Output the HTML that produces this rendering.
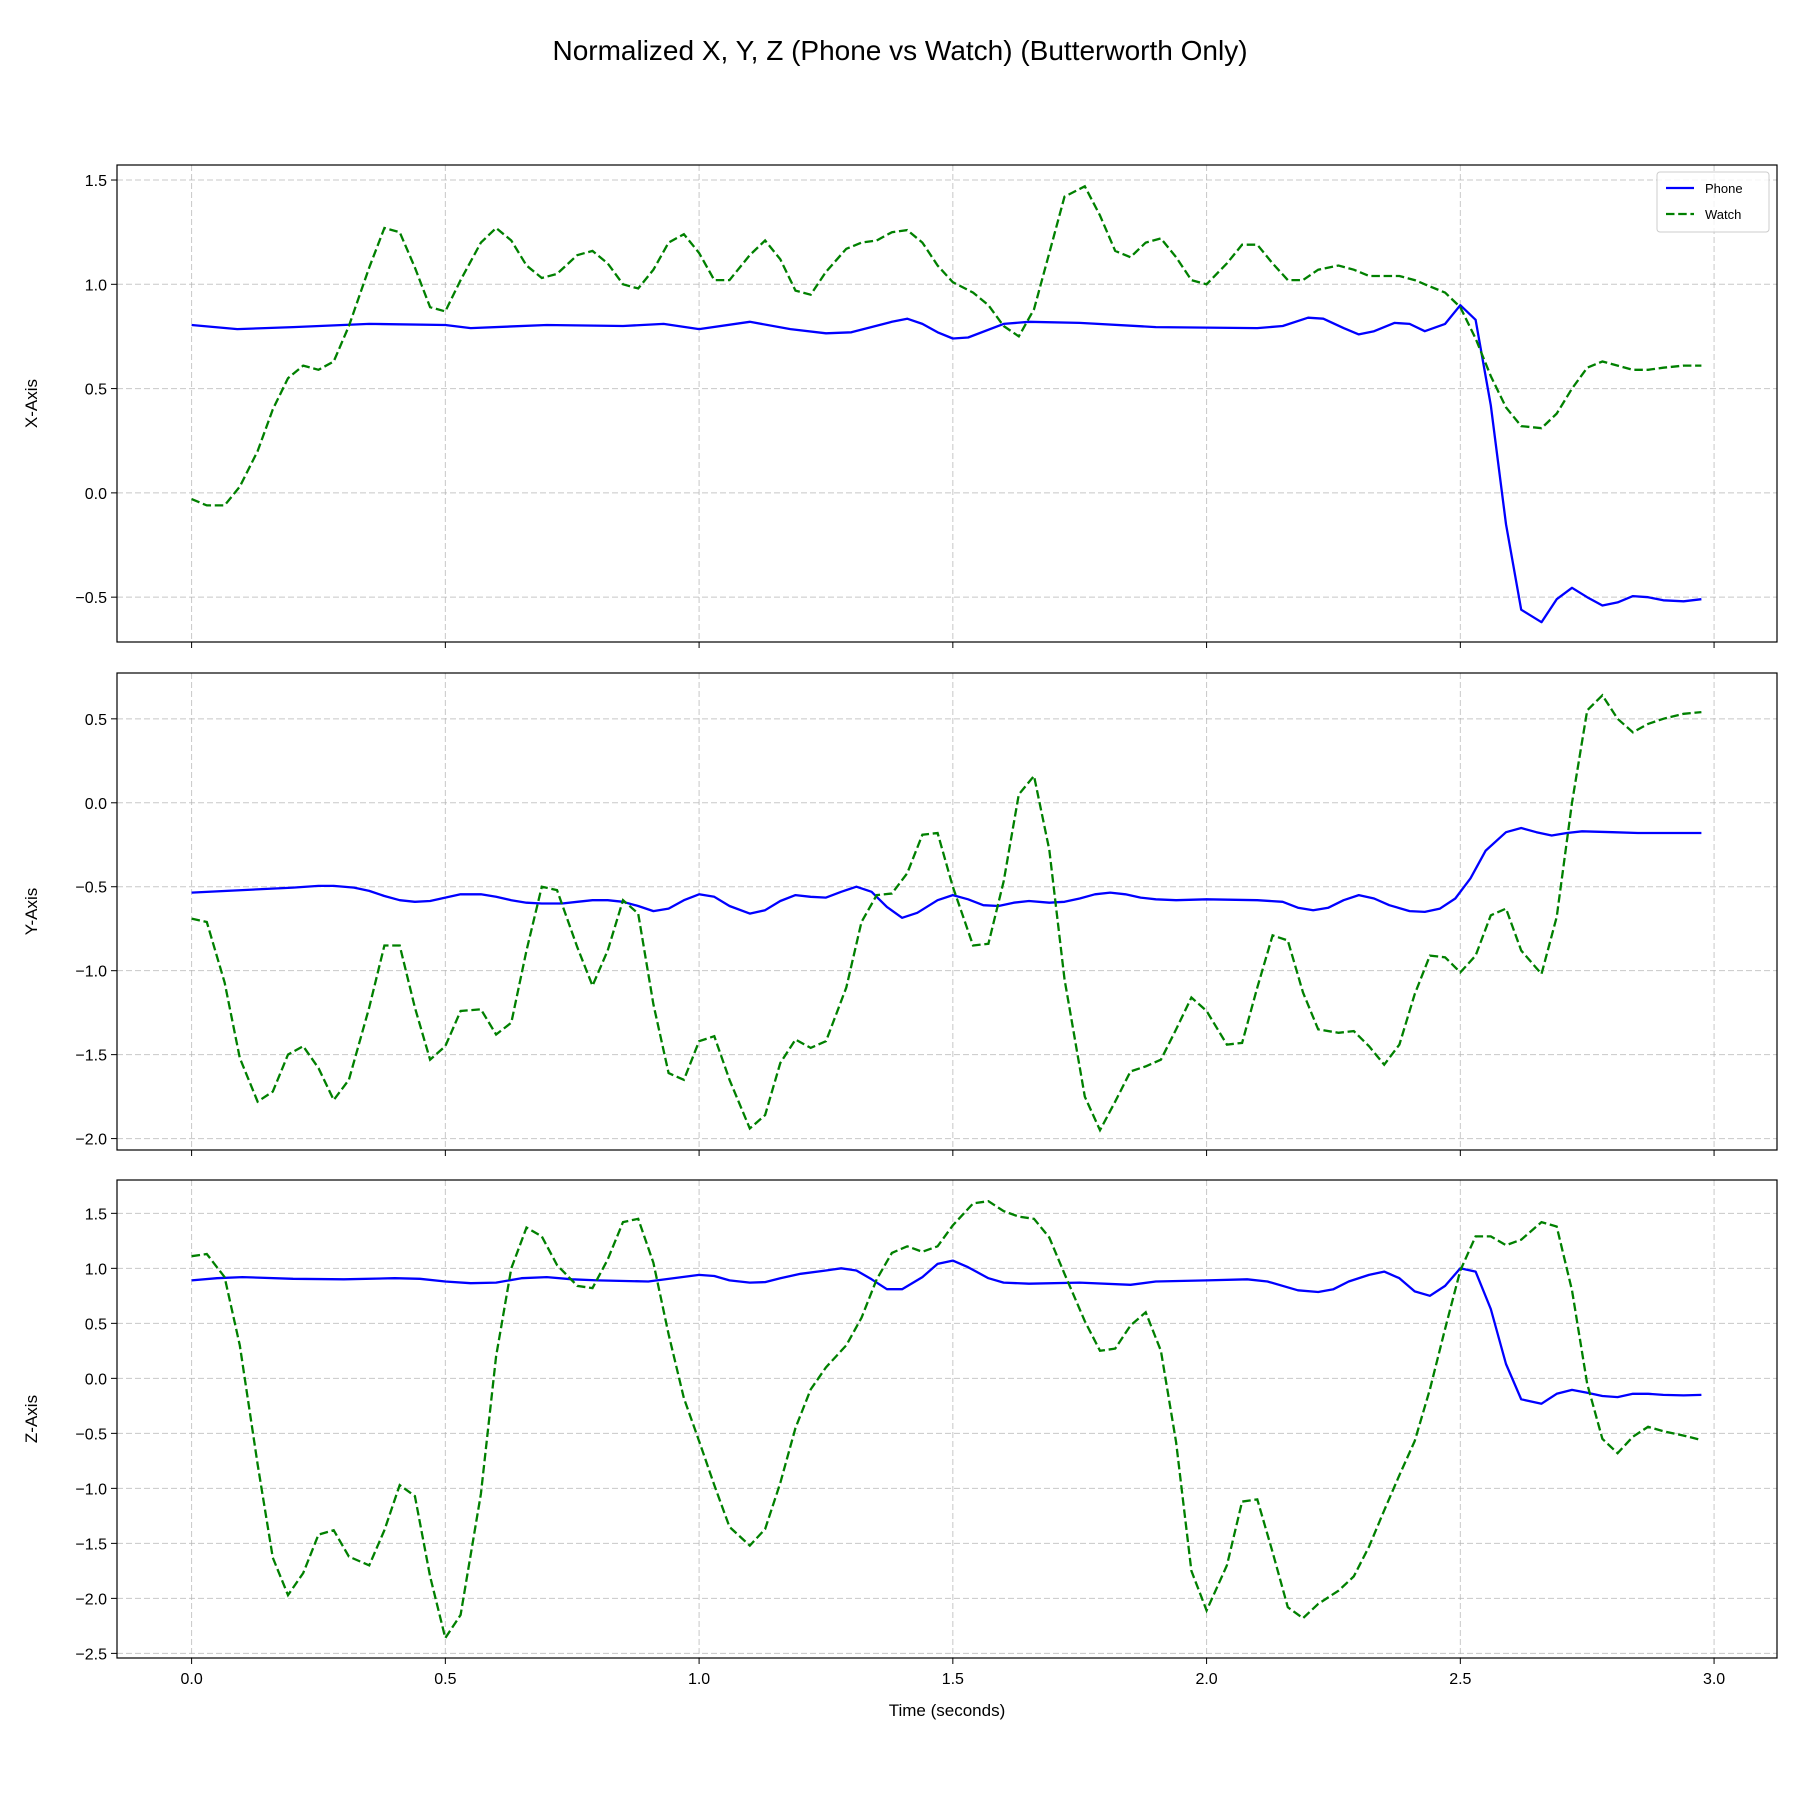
<!DOCTYPE html>
<html><head><meta charset="utf-8">
<style>
html,body{margin:0;padding:0;background:#fff;}
svg{display:block;font-family:"Liberation Sans","DejaVu Sans",sans-serif;}
</style></head>
<body>
<svg id="chart" width="1800" height="1800" viewBox="0 0 1800 1800">
<text x="900" y="60" text-anchor="middle" font-size="28" fill="#000">Normalized X, Y, Z (Phone vs Watch) (Butterworth Only)</text>
</svg>
<script>
const xTicks=[0,0.5,1.0,1.5,2.0,2.5,3.0];
const xTickLabels=["0.0","0.5","1.0","1.5","2.0","2.5","3.0"];
const ticksX=[-0.5,0,0.5,1,1.5];
const ticksY=[-2,-1.5,-1,-0.5,0,0.5];
const ticksZ=[-2.5,-2,-1.5,-1,-0.5,0,0.5,1,1.5];

const phoneXt=[0,0.09,0.2,0.35,0.5,0.55,0.7,0.85,0.93,1.0,1.1,1.18,1.25,1.3,1.38,1.41,1.44,1.47,1.5,1.53,1.6,1.65,1.75,1.9,2.1,2.15,2.2,2.23,2.27,2.3,2.33,2.37,2.4,2.43,2.47,2.5,2.53,2.56,2.59,2.62,2.66,2.69,2.72,2.75,2.78,2.81,2.84,2.87,2.9,2.94,2.975];
const phoneXv=[0.805,0.785,0.795,0.81,0.805,0.79,0.805,0.80,0.81,0.785,0.82,0.785,0.765,0.77,0.82,0.835,0.81,0.77,0.74,0.745,0.81,0.82,0.815,0.795,0.79,0.80,0.84,0.835,0.79,0.76,0.775,0.815,0.81,0.775,0.81,0.9,0.83,0.42,-0.15,-0.56,-0.62,-0.51,-0.455,-0.5,-0.54,-0.525,-0.495,-0.5,-0.515,-0.52,-0.51];
const watchXt=[0,0.03,0.065,0.095,0.13,0.16,0.19,0.22,0.25,0.28,0.31,0.35,0.38,0.41,0.44,0.47,0.5,0.53,0.57,0.6,0.63,0.66,0.69,0.72,0.76,0.79,0.82,0.85,0.88,0.91,0.94,0.97,1.0,1.03,1.06,1.1,1.13,1.16,1.19,1.22,1.25,1.29,1.32,1.35,1.38,1.41,1.44,1.47,1.5,1.54,1.57,1.6,1.63,1.66,1.69,1.72,1.76,1.79,1.82,1.85,1.88,1.91,1.94,1.97,2.0,2.04,2.07,2.1,2.13,2.16,2.19,2.22,2.26,2.29,2.32,2.35,2.38,2.41,2.44,2.47,2.5,2.53,2.56,2.59,2.62,2.66,2.69,2.72,2.75,2.78,2.81,2.84,2.87,2.9,2.94,2.975];
const watchXv=[-0.03,-0.06,-0.06,0.03,0.2,0.4,0.55,0.61,0.59,0.63,0.8,1.08,1.27,1.25,1.08,0.89,0.87,1.02,1.2,1.27,1.21,1.09,1.03,1.05,1.14,1.16,1.1,1.0,0.98,1.07,1.2,1.24,1.15,1.02,1.02,1.14,1.21,1.12,0.97,0.95,1.06,1.17,1.2,1.21,1.25,1.26,1.2,1.09,1.01,0.96,0.9,0.8,0.75,0.88,1.15,1.42,1.47,1.33,1.16,1.13,1.2,1.22,1.13,1.02,1.0,1.1,1.19,1.19,1.1,1.02,1.02,1.07,1.09,1.07,1.04,1.04,1.04,1.02,0.99,0.96,0.89,0.74,0.56,0.41,0.32,0.31,0.38,0.5,0.6,0.63,0.61,0.59,0.59,0.6,0.61,0.61];

const phoneYt=[0,0.1,0.2,0.25,0.28,0.32,0.35,0.38,0.41,0.44,0.47,0.5,0.53,0.57,0.6,0.63,0.66,0.69,0.73,0.76,0.79,0.82,0.85,0.88,0.91,0.94,0.97,1.0,1.03,1.06,1.1,1.13,1.16,1.19,1.22,1.25,1.28,1.31,1.34,1.37,1.4,1.43,1.47,1.5,1.53,1.56,1.59,1.62,1.65,1.69,1.72,1.75,1.78,1.81,1.84,1.87,1.9,1.94,2.0,2.1,2.15,2.18,2.21,2.24,2.27,2.3,2.33,2.36,2.4,2.43,2.46,2.49,2.52,2.55,2.59,2.62,2.65,2.68,2.71,2.74,2.8,2.85,2.9,2.975];
const phoneYv=[-0.535,-0.52,-0.505,-0.495,-0.495,-0.505,-0.525,-0.555,-0.58,-0.59,-0.585,-0.565,-0.545,-0.545,-0.56,-0.58,-0.595,-0.6,-0.6,-0.59,-0.58,-0.58,-0.59,-0.615,-0.645,-0.63,-0.58,-0.545,-0.56,-0.615,-0.66,-0.64,-0.585,-0.55,-0.56,-0.565,-0.53,-0.5,-0.53,-0.62,-0.685,-0.655,-0.58,-0.55,-0.575,-0.61,-0.615,-0.595,-0.585,-0.595,-0.59,-0.57,-0.545,-0.535,-0.545,-0.565,-0.575,-0.58,-0.575,-0.58,-0.59,-0.625,-0.64,-0.625,-0.58,-0.55,-0.57,-0.61,-0.645,-0.65,-0.63,-0.57,-0.45,-0.285,-0.175,-0.15,-0.175,-0.195,-0.18,-0.17,-0.175,-0.18,-0.18,-0.18];
const watchYt=watchXt;
const watchYv=[-0.69,-0.71,-1.07,-1.52,-1.78,-1.72,-1.5,-1.45,-1.58,-1.77,-1.65,-1.22,-0.85,-0.85,-1.22,-1.53,-1.45,-1.24,-1.23,-1.38,-1.31,-0.88,-0.5,-0.52,-0.86,-1.09,-0.88,-0.58,-0.66,-1.2,-1.61,-1.65,-1.42,-1.39,-1.65,-1.94,-1.86,-1.55,-1.41,-1.46,-1.42,-1.1,-0.71,-0.55,-0.54,-0.42,-0.19,-0.18,-0.5,-0.85,-0.84,-0.47,0.05,0.16,-0.28,-1.05,-1.75,-1.95,-1.78,-1.6,-1.57,-1.53,-1.35,-1.16,-1.24,-1.44,-1.43,-1.1,-0.79,-0.82,-1.13,-1.35,-1.37,-1.36,-1.45,-1.56,-1.44,-1.14,-0.91,-0.92,-1.01,-0.91,-0.67,-0.63,-0.88,-1.02,-0.68,0.0,0.55,0.64,0.5,0.42,0.47,0.5,0.53,0.54];

const phoneZt=[0,0.05,0.1,0.2,0.3,0.4,0.45,0.5,0.55,0.6,0.65,0.7,0.75,0.8,0.9,1.0,1.03,1.06,1.1,1.13,1.16,1.2,1.25,1.28,1.31,1.34,1.37,1.4,1.44,1.47,1.5,1.53,1.57,1.6,1.65,1.75,1.85,1.9,2.0,2.08,2.12,2.18,2.22,2.25,2.28,2.32,2.35,2.38,2.41,2.44,2.47,2.5,2.53,2.56,2.59,2.62,2.66,2.69,2.72,2.75,2.78,2.81,2.84,2.87,2.9,2.94,2.975];
const phoneZv=[0.89,0.91,0.92,0.905,0.9,0.91,0.905,0.88,0.865,0.87,0.91,0.92,0.9,0.89,0.88,0.94,0.93,0.89,0.87,0.875,0.91,0.95,0.98,1.0,0.98,0.9,0.81,0.81,0.92,1.04,1.07,1.01,0.91,0.87,0.86,0.87,0.85,0.88,0.89,0.9,0.88,0.8,0.785,0.81,0.88,0.94,0.97,0.91,0.79,0.75,0.84,1.0,0.97,0.63,0.13,-0.19,-0.23,-0.14,-0.105,-0.13,-0.16,-0.17,-0.14,-0.14,-0.15,-0.155,-0.15];
const watchZt=watchXt;
const watchZv=[1.11,1.13,0.92,0.3,-0.78,-1.63,-1.97,-1.77,-1.42,-1.38,-1.62,-1.7,-1.38,-0.97,-1.07,-1.8,-2.36,-2.15,-1.05,0.2,1.0,1.37,1.29,1.03,0.84,0.82,1.08,1.42,1.45,1.05,0.4,-0.18,-0.57,-0.97,-1.35,-1.52,-1.37,-0.95,-0.45,-0.1,0.1,0.3,0.55,0.9,1.14,1.2,1.15,1.2,1.39,1.59,1.61,1.52,1.47,1.45,1.28,0.95,0.52,0.25,0.27,0.48,0.6,0.25,-0.58,-1.75,-2.11,-1.7,-1.12,-1.1,-1.58,-2.08,-2.18,-2.05,-1.93,-1.8,-1.53,-1.2,-0.88,-0.57,-0.1,0.45,0.98,1.29,1.29,1.21,1.26,1.42,1.38,0.8,-0.05,-0.55,-0.68,-0.53,-0.44,-0.48,-0.52,-0.56];

const NS="http://www.w3.org/2000/svg";
const svg=document.getElementById('chart');
function mk(tag,attrs,parent){const e=document.createElementNS(NS,tag);for(const k in attrs)e.setAttribute(k,attrs[k]);(parent||svg).appendChild(e);return e;}
const L=117,R=1777,xmin=-0.147,xmax=3.124;
const sx=t=>L+(t-xmin)/(xmax-xmin)*(R-L);
const panels=[
 {top:165,bot:642,ymin:-0.715,ymax:1.572,ticks:ticksX,label:"X-Axis",p:[phoneXt,phoneXv],w:[watchXt,watchXv],legend:true,name:"x"},
 {top:673,bot:1150,ymin:-2.068,ymax:0.773,ticks:ticksY,label:"Y-Axis",p:[phoneYt,phoneYv],w:[watchYt,watchYv],name:"y"},
 {top:1180,bot:1658,ymin:-2.542,ymax:1.803,ticks:ticksZ,label:"Z-Axis",p:[phoneZt,phoneZv],w:[watchZt,watchZv],xlabels:true,name:"z"}
];
panels.forEach((P,pi)=>{
 const g=mk('g',{});
 
 
 const sy=v=>P.bot-(v-P.ymin)/(P.ymax-P.ymin)*(P.bot-P.top);
 xTicks.forEach((t,i)=>{
  const gl=mk('line',{x1:sx(t),x2:sx(t),y1:P.top,y2:P.bot,stroke:'#b0b0b0','stroke-width':1,'stroke-dasharray':'6,3','stroke-opacity':0.7},g);
  
  
  const tk=mk('line',{x1:sx(t),x2:sx(t),y1:P.bot,y2:P.bot+6,stroke:'#000','stroke-width':1},g);
  
  
  if(P.xlabels){const tx=mk('text',{x:sx(t),y:P.bot+26,'text-anchor':'middle','font-size':16},g);tx.textContent=xTickLabels[i];
   
   }
 });
 P.ticks.forEach(v=>{
  const gl=mk('line',{x1:L,x2:R,y1:sy(v),y2:sy(v),stroke:'#b0b0b0','stroke-width':1,'stroke-dasharray':'6,3','stroke-opacity':0.7},g);
  
  
  const tk=mk('line',{x1:L-6,x2:L,y1:sy(v),y2:sy(v),stroke:'#000','stroke-width':1},g);
  
  
  const tx=mk('text',{x:L-10,y:sy(v)+6,'text-anchor':'end','font-size':16},g);
  tx.textContent=(v<0?'\u2212':'')+Math.abs(v).toFixed(1);
  
  
 });
 const path=(ts,vs)=>ts.map((t,i)=>(i?'L':'M')+sx(t).toFixed(1)+','+sy(vs[i]).toFixed(1)).join(' ');
 const pl=mk('path',{d:path(P.p[0],P.p[1]),fill:'none',stroke:'#0000ff','stroke-width':2.3,'stroke-linejoin':'round'},g);
 
 
 const wl=mk('path',{d:path(P.w[0],P.w[1]),fill:'none',stroke:'#008000','stroke-width':2.3,'stroke-dasharray':'8.5,3.7'},g);
 
 
 const fr=mk('rect',{x:L,y:P.top,width:R-L,height:P.bot-P.top,fill:'none',stroke:'#000','stroke-width':1.2},g);
 
 
 const yl=mk('text',{x:0,y:0,'text-anchor':'middle','font-size':17,transform:`translate(37,${(P.top+P.bot)/2}) rotate(-90)`},g);
 yl.textContent=P.label;
 
 
 if(P.legend){
  const lg=mk('g',{},g);
  
  
  mk('rect',{x:1657,y:172,width:112,height:60,rx:3,fill:'#fff','fill-opacity':0.8,stroke:'#ccc','stroke-width':1},lg);
  mk('line',{x1:1666,x2:1694,y1:188,y2:188,stroke:'#0000ff','stroke-width':2.3},lg);
  const t1=mk('text',{x:1705,y:193,'font-size':13},lg);t1.textContent='Phone';
  
  
  mk('line',{x1:1666,x2:1694,y1:214,y2:214,stroke:'#008000','stroke-width':2.3,'stroke-dasharray':'8.5,3.7'},lg);
  const t2=mk('text',{x:1705,y:219,'font-size':13},lg);t2.textContent='Watch';
  
  
 }
});
const xl=mk('text',{x:(L+R)/2,y:1716,'text-anchor':'middle','font-size':17});
xl.textContent='Time (seconds)';


</script>
</body></html>
